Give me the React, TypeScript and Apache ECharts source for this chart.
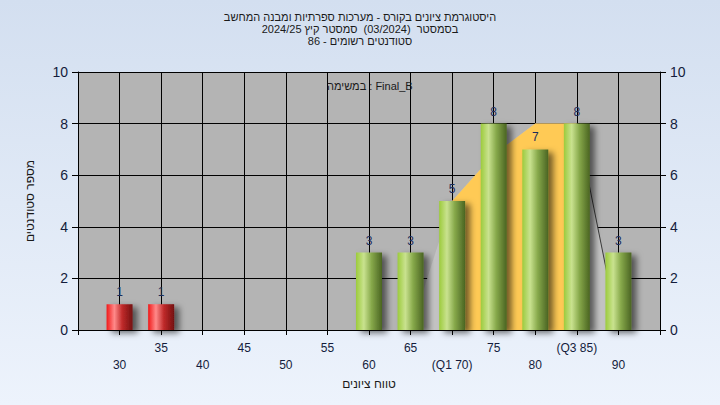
import React, { useEffect, useRef } from "react";
import * as echarts from "echarts";

// Grade bins (category axis), bin 25 and 95 are empty edge bins
const categories = ["25", "30", "35", "40", "45", "50", "55", "60", "65", "70", "75", "80", "85", "90", "95"];
const tickLabels = ["", "30", "35", "40", "45", "50", "55", "60", "65", "(Q1 70)", "75", "80", "(Q3 85)", "90", ""];
// Number of students per bin
const counts = [0, 1, 1, 0, 0, 0, 0, 3, 3, 5, 8, 7, 8, 3, 0];
// Distribution outline (background area) and the inter-quartile part of it
const curveAll = [null, null, null, null, null, null, null, null, 0, 5, 6.8, 8, 8, 0, null];
const curveIQR = [null, null, null, null, null, null, null, null, null, 5, 6.8, 8, 8, null, null];
const curveTail = [null, null, null, null, null, null, null, null, null, null, null, null, 8, 0, null];
const passMark = 55;

const titleLines = [
  "היסטוגרמת ציונים בקורס - מערכות ספרתיות ומבנה המחשב",
  "בסמסטר  (03/2024)  סמסטר קיץ 2024/25",
  "סטודנטים רשומים - 86",
];
const innerLabel = "במשימה : Final_B";
const xName = "טווח ציונים";
const yName = "מספר סטודנטים";

const FONT = "Arial, 'Liberation Sans', sans-serif";

function barGradient(fail: boolean) {
  const stops = fail
    ? [
        { offset: 0, color: "#f01818" },
        { offset: 0.3, color: "#ff8a8a" },
        { offset: 0.6, color: "#c02a2a" },
        { offset: 1, color: "#741010" },
      ]
    : [
        { offset: 0, color: "#9ccb3c" },
        { offset: 0.3, color: "#c9e28f" },
        { offset: 0.6, color: "#86a84a" },
        { offset: 1, color: "#4a6422" },
      ];
  return new echarts.graphic.LinearGradient(0, 0, 1, 0, stops);
}

export default function App() {
  const ref = useRef<HTMLDivElement>(null);

  useEffect(() => {
    if (!ref.current) return;
    const chart = echarts.init(ref.current, null, { renderer: "svg" });

    const barData = counts.map((v, i) => ({
      value: v === 0 ? "-" : v,
      itemStyle: {
        color: barGradient(Number(categories[i]) < passMark),
        shadowColor: "rgba(0,0,0,0.55)",
        shadowBlur: 6,
        shadowOffsetX: 5,
        shadowOffsetY: 3,
      },
    }));

    const yCommon = {
      type: "value" as const,
      min: 0,
      max: 10,
      interval: 2,
      axisLine: { show: true, lineStyle: { color: "#000", width: 1 } },
      axisTick: { show: true, length: 6, lineStyle: { color: "#000" } },
      axisLabel: { color: "#141c3c", fontSize: 14, fontFamily: FONT, margin: 10 },
    };

    chart.setOption({
      animation: false,
      backgroundColor: new echarts.graphic.LinearGradient(0, 0, 0, 1, [
        { offset: 0, color: "#d3dff0" },
        { offset: 1, color: "#edf3fc" },
      ]),
      title: titleLines.map((t, i) => ({
        text: t,
        left: "center",
        top: 11 + i * 12,
        padding: 0,
        textStyle: { fontSize: 11, fontWeight: "normal", color: "#1a1a1a", fontFamily: FONT, lineHeight: 12 },
      })),
      grid: {
        left: 78,
        right: 60,
        top: 72,
        bottom: 75,
        show: true,
        backgroundColor: "#b4b4b4",
        borderWidth: 0,
      },
      graphic: [
        {
          type: "text",
          left: 327,
          top: 80,
          style: { text: innerLabel, fontSize: 11, fill: "#1a1a1a", fontFamily: FONT },
          z: 10,
        },
      ],
      xAxis: {
        type: "category",
        data: categories,
        boundaryGap: false,
        name: xName,
        nameLocation: "middle",
        nameGap: 45,
        nameTextStyle: { fontSize: 12, color: "#1a1a1a", fontFamily: FONT },
        axisLine: { show: true, lineStyle: { color: "#000", width: 1 } },
        axisTick: { show: true, interval: 0, length: 5, lineStyle: { color: "#000" } },
        splitLine: { show: true, interval: 0, lineStyle: { color: "#000", width: 1 } },
        axisLabel: {
          interval: 0,
          fontSize: 12,
          color: "#141c3c",
          fontFamily: FONT,
          margin: 9,
          lineHeight: 17,
          formatter: (_v: string, i: number) => {
            const t = tickLabels[i];
            if (!t) return "";
            return Number(categories[i]) % 10 === 0 ? "\n" + t : t;
          },
        },
      },
      yAxis: [
        {
          ...yCommon,
          position: "left",
          name: yName,
          nameLocation: "middle",
          nameGap: 42,
          nameTextStyle: { fontSize: 12, color: "#1a1a1a", fontFamily: FONT },
          splitLine: { show: true, lineStyle: { color: "#000", width: 1 } },
        },
        {
          ...yCommon,
          position: "right",
          splitLine: { show: false },
        },
      ],
      series: [
        {
          type: "line",
          data: curveAll,
          symbol: "none",
          lineStyle: { width: 0 },
          areaStyle: { color: "#c4c4c4", opacity: 1 },
          z: 1,
          silent: true,
        },
        {
          type: "line",
          data: curveIQR,
          symbol: "none",
          lineStyle: { width: 0 },
          areaStyle: { color: "#ffca55", opacity: 1 },
          z: 2,
          silent: true,
        },
        {
          type: "line",
          data: curveTail,
          symbol: "none",
          lineStyle: { width: 1, color: "#3a3a3a" },
          z: 3,
          silent: true,
        },
        {
          type: "bar",
          data: barData,
          barWidth: 26,
          z: 5,
          label: {
            show: true,
            position: "top",
            distance: 6,
            fontSize: 12,
            color: "#1c2c5c",
            fontFamily: FONT,
          },
        },
      ],
    });

    return () => chart.dispose();
  }, []);

  return (
    <div
      ref={ref}
      style={{ position: "fixed", left: 0, top: 0, width: 720, height: 405 }}
    />
  );
}
